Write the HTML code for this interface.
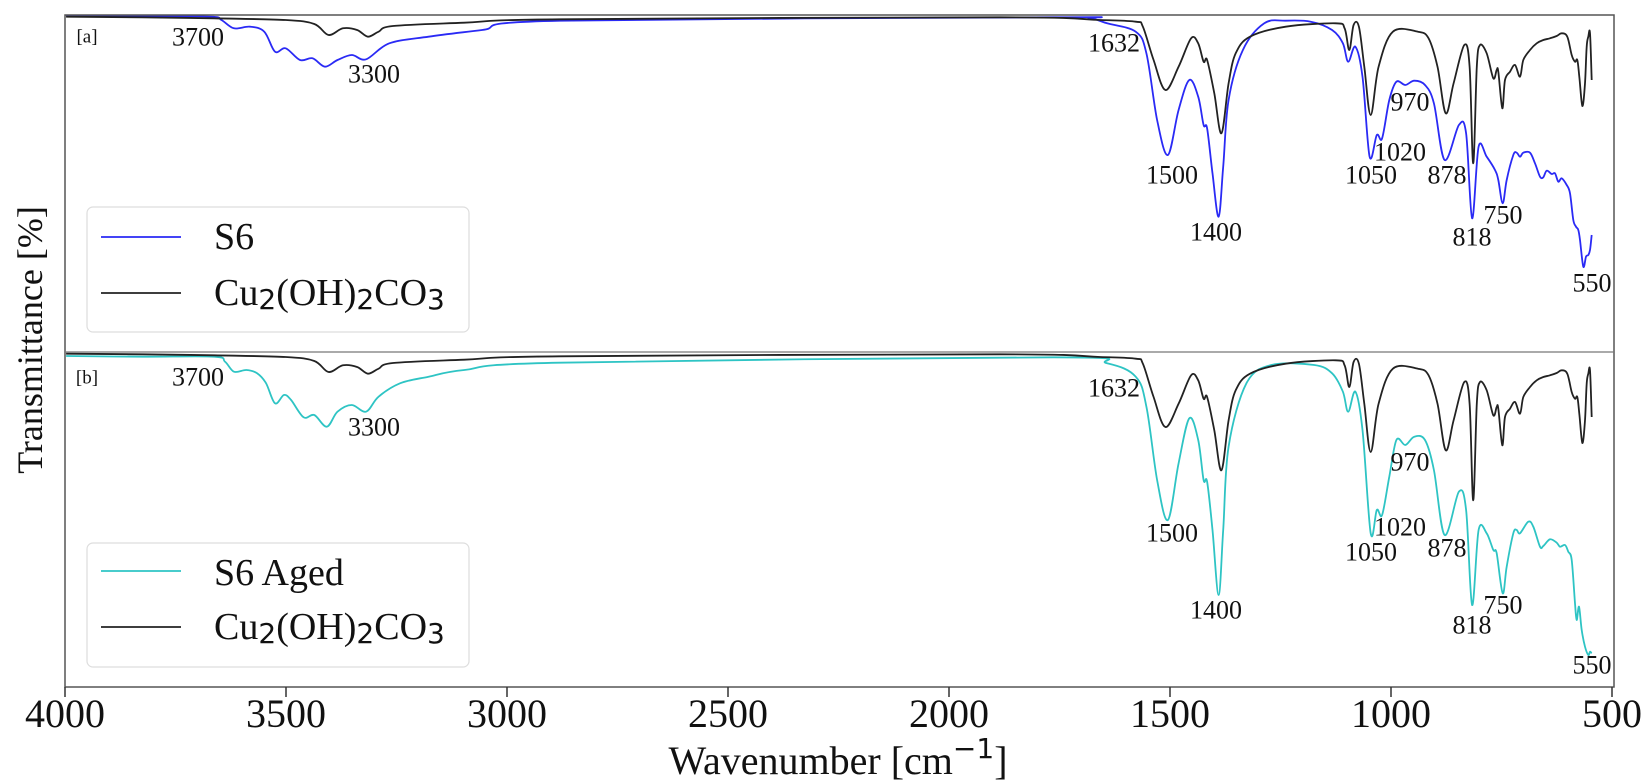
<!DOCTYPE html>
<html><head><meta charset="utf-8"><style>
html,body{margin:0;padding:0;background:#fff}
svg{display:block}
text{font-family:"Liberation Serif",serif;fill:#111}
.pk{font-size:26px}
</style></head><body>
<svg id="s" width="1644" height="782" viewBox="0 0 1644 782" xmlns="http://www.w3.org/2000/svg">
<rect x="0" y="0" width="1644" height="782" fill="#fff"/>
<g id="curves"></g>
<!-- frames -->
<rect x="65" y="15" width="1549" height="672" fill="none" stroke="#555" stroke-width="1.5"/>
<line x1="65" y1="352" x2="1614" y2="352" stroke="#777" stroke-width="1.2"/>
<g id="ticks" stroke="#333" stroke-width="1.5"></g>
<!-- labels top -->
<text x="87" y="37" font-size="19" dominant-baseline="central" text-anchor="middle">[a]</text>
<text class="pk" x="198" y="37" dominant-baseline="central" text-anchor="middle">3700</text>
<text class="pk" x="374" y="74" dominant-baseline="central" text-anchor="middle">3300</text>
<text class="pk" x="1114" y="43" dominant-baseline="central" text-anchor="middle">1632</text>
<text class="pk" x="1172" y="175" dominant-baseline="central" text-anchor="middle">1500</text>
<text class="pk" x="1216" y="232" dominant-baseline="central" text-anchor="middle">1400</text>
<text class="pk" x="1371" y="175" dominant-baseline="central" text-anchor="middle">1050</text>
<text class="pk" x="1400" y="152" dominant-baseline="central" text-anchor="middle">1020</text>
<text class="pk" x="1410" y="102" dominant-baseline="central" text-anchor="middle">970</text>
<text class="pk" x="1447" y="175" dominant-baseline="central" text-anchor="middle">878</text>
<text class="pk" x="1503" y="215" dominant-baseline="central" text-anchor="middle">750</text>
<text class="pk" x="1472" y="237" dominant-baseline="central" text-anchor="middle">818</text>
<text class="pk" x="1592" y="283" dominant-baseline="central" text-anchor="middle">550</text>
<!-- labels bottom -->
<text x="87" y="378" font-size="19" dominant-baseline="central" text-anchor="middle">[b]</text>
<text class="pk" x="198" y="377" dominant-baseline="central" text-anchor="middle">3700</text>
<text class="pk" x="374" y="427" dominant-baseline="central" text-anchor="middle">3300</text>
<text class="pk" x="1114" y="388" dominant-baseline="central" text-anchor="middle">1632</text>
<text class="pk" x="1172" y="533" dominant-baseline="central" text-anchor="middle">1500</text>
<text class="pk" x="1216" y="610" dominant-baseline="central" text-anchor="middle">1400</text>
<text class="pk" x="1371" y="552" dominant-baseline="central" text-anchor="middle">1050</text>
<text class="pk" x="1400" y="527" dominant-baseline="central" text-anchor="middle">1020</text>
<text class="pk" x="1410" y="462" dominant-baseline="central" text-anchor="middle">970</text>
<text class="pk" x="1447" y="548" dominant-baseline="central" text-anchor="middle">878</text>
<text class="pk" x="1503" y="605" dominant-baseline="central" text-anchor="middle">750</text>
<text class="pk" x="1472" y="625" dominant-baseline="central" text-anchor="middle">818</text>
<text class="pk" x="1592" y="665" dominant-baseline="central" text-anchor="middle">550</text>
<!-- legends -->
<rect x="87" y="207" width="382" height="125" rx="6" fill="#fff" fill-opacity="0.85" stroke="#ddd" stroke-width="1.2"/>
<line x1="101" y1="237" x2="181" y2="237" stroke="#2a2af5" stroke-width="1.8"/>
<line x1="101" y1="293" x2="181" y2="293" stroke="#222" stroke-width="1.8"/>
<text x="214" y="237" font-size="38" dominant-baseline="central">S6</text>
<text x="214" y="293" font-size="38" dominant-baseline="central">Cu<tspan font-family="DejaVu Sans" font-size="28" dy="6">2</tspan><tspan dy="-6">(OH)</tspan><tspan font-family="DejaVu Sans" font-size="28" dy="6">2</tspan><tspan dy="-6">CO</tspan><tspan font-family="DejaVu Sans" font-size="28" dy="6">3</tspan></text>
<rect x="87" y="543" width="382" height="124" rx="6" fill="#fff" fill-opacity="0.85" stroke="#ddd" stroke-width="1.2"/>
<line x1="101" y1="571" x2="181" y2="571" stroke="#2ec4c4" stroke-width="1.8"/>
<line x1="101" y1="627" x2="181" y2="627" stroke="#222" stroke-width="1.8"/>
<text x="214" y="573" font-size="38" dominant-baseline="central">S6 Aged</text>
<text x="214" y="627" font-size="38" dominant-baseline="central">Cu<tspan font-family="DejaVu Sans" font-size="28" dy="6">2</tspan><tspan dy="-6">(OH)</tspan><tspan font-family="DejaVu Sans" font-size="28" dy="6">2</tspan><tspan dy="-6">CO</tspan><tspan font-family="DejaVu Sans" font-size="28" dy="6">3</tspan></text>
<!-- axis labels -->
<g font-size="40" text-anchor="middle">
<text x="65" y="727">4000</text><text x="286" y="727">3500</text><text x="507" y="727">3000</text>
<text x="728" y="727">2500</text><text x="949" y="727">2000</text><text x="1170" y="727">1500</text>
<text x="1391" y="727">1000</text><text x="1612" y="727">500</text>
</g>
<text x="838" y="774" font-size="40" text-anchor="middle">Wavenumber [cm<tspan font-size="28" dy="-16" font-family="DejaVu Sans">−1</tspan><tspan dy="16">]</tspan></text>
<text transform="translate(42,340) rotate(-90)" font-size="36" text-anchor="middle">Transmittance [%]</text>
</svg>
<script>
(function(){
var NS="http://www.w3.org/2000/svg";
function path(pts,color,g){
 var d="M"+pts[0][0].toFixed(1)+","+pts[0][1].toFixed(1);
 for(var i=0;i<pts.length-1;i++){
  var p0=pts[i-1]||pts[i],p1=pts[i],p2=pts[i+1],p3=pts[i+2]||p2;
  var c1x=p1[0]+(p2[0]-p0[0])/6,c1y=p1[1]+(p2[1]-p0[1])/6;
  var c2x=p2[0]-(p3[0]-p1[0])/6,c2y=p2[1]-(p3[1]-p1[1])/6;
  d+=" C"+c1x.toFixed(1)+","+c1y.toFixed(1)+" "+c2x.toFixed(1)+","+c2y.toFixed(1)+" "+p2[0].toFixed(1)+","+p2[1].toFixed(1);
 }
 var e=document.createElementNS(NS,"path");
 e.setAttribute("d",d);e.setAttribute("fill","none");e.setAttribute("stroke",color);
 e.setAttribute("stroke-width","1.8");e.setAttribute("stroke-linejoin","round");
 g.appendChild(e);
}
function tr(a,ox,oy,sx,sy){return a.map(function(p){return [ox+p[0]/sx,oy+p[1]/sy];});}
// black top
var bl=tr([[185,50],[400,52],[600,55],[800,60],[880,72],[920,105],[960,85],[1000,90],[1030,110],[1060,95],[1100,78],[1300,68],[1568,58]],0,0,2.8,3)
 .concat(tr([[0,52],[280,60],[380,65],[400,80],[430,180],[463,270],[500,200],[535,115],[555,130],[570,185],[580,180],[600,280],[620,400],[640,250],[660,160],[700,110],[800,80],[940,70],[965,85],[978,150],[990,75],[1005,80],[1020,200],[1038,345],[1060,200],[1100,95],[1170,95],[1200,115],[1225,200],[1248,340],[1270,250],[1300,135],[1315,200],[1325,490],[1335,200]],1000,0,2.8,3))
 .concat(tr([[0,135],[20,160],[40,235],[50,210],[55,215],[67,325],[75,240],[90,215],[105,195],[120,230],[130,180],[150,150],[170,130],[190,120],[210,115],[230,108],[245,100],[262,110],[275,165],[285,185],[292,180],[298,230],[307,318],[315,250],[320,140],[325,110],[330,100],[335,240]],1480,0,3,3));
var blue=tr([[185,48],[400,48],[590,50],[620,60],[655,85],[700,80],[740,95],[770,155],[800,145],[840,180],[875,175],[910,200],[945,180],[985,165],[1025,178],[1090,130],[1200,110],[1350,90],[1568,62]],0,0,2.8,3)
 .concat(tr([[150,52],[250,55],[300,70],[380,95],[410,160],[440,360],[470,465],[500,330],[530,240],[555,290],[570,375],[580,385],[595,520],[612,650],[625,500],[640,300],[680,150],[740,70],[800,62],[870,65],[930,90],[960,130],[975,185],[995,140],[1015,230],[1035,470],[1055,405],[1070,415],[1090,300],[1110,245],[1135,255],[1160,242],[1190,255],[1215,310],[1245,480],[1285,375],[1305,400],[1322,655],[1340,440]],1000,0,2.8,3))
 .concat(tr([[20,470],[45,510],[55,540],[68,610],[80,540],[100,465],[110,458],[120,470],[130,458],[150,458],[165,490],[180,530],[190,532],[200,512],[215,522],[225,520],[235,545],[245,535],[260,555],[270,580],[280,660],[288,680],[295,690],[300,720],[310,800],[318,770],[325,765],[330,750],[335,705]],1480,0,3,3));
var cyan=tr([[185,48],[400,50],[600,50],[630,65],[655,95],[690,90],[720,100],[745,130],[770,190],[795,165],[815,180],[850,232],[880,225],[915,260],[945,215],[985,195],[1025,215],[1060,170],[1120,130],[1200,110],[1300,90],[1568,68]],0,340,2.8,3)
 .concat(tr([[150,82],[300,100],[380,140],[410,230],[440,450],[470,570],[500,400],[530,265],[555,330],[570,450],[580,455],[595,600],[612,795],[625,600],[640,350],[690,160],[760,105],[880,105],[930,130],[960,185],[975,245],[995,185],[1015,300],[1038,610],[1055,540],[1070,555],[1090,440],[1110,330],[1135,345],[1160,320],[1190,330],[1215,420],[1245,615],[1285,485],[1305,540],[1322,825],[1340,600]],1000,330,2.8,3))
 .concat(tr([[20,580],[40,630],[50,640],[68,760],[80,680],[100,580],[110,570],[120,580],[145,545],[160,560],[180,620],[190,618],[210,598],[230,608],[240,620],[255,615],[265,635],[275,660],[285,790],[290,840],[297,800],[305,870],[315,920],[325,945],[330,935],[335,940]],1480,340,3,3));
var g=document.getElementById("curves");
path(blue,"#2a2af5",g);
path(bl,"#222",g);
path(cyan,"#2ec4c4",g);
path(bl.map(function(p){return [p[0],p[1]+337];}),"#222",g);
var tk=document.getElementById("ticks");
for(var i=0;i<8;i++){var x=65+i*221;var l=document.createElementNS(NS,"line");
 l.setAttribute("x1",x);l.setAttribute("x2",x);l.setAttribute("y1",687);l.setAttribute("y2",697);tk.appendChild(l);}
})();
</script>
</body></html>
